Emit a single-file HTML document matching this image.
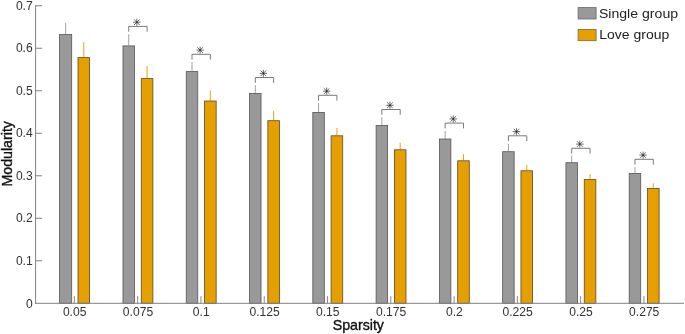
<!DOCTYPE html>
<html><head><meta charset="utf-8"><title>chart</title>
<style>
html,body{margin:0;padding:0;background:#fff;}
body{width:685px;height:334px;overflow:hidden;}
svg{display:block;will-change:transform;}
text{font-family:"Liberation Sans",sans-serif;}
</style></head><body>
<svg width="685" height="334" viewBox="0 0 685 334">

<line x1="65.65" y1="23.00" x2="65.65" y2="34.10" stroke="#a2a2a2" stroke-width="1"/>
<line x1="83.80" y1="42.20" x2="83.80" y2="57.20" stroke="#e7a310" stroke-width="1"/>
<rect x="59.60" y="34.50" width="12.10" height="268.80" fill="#999999" stroke="#555555" stroke-width="0.8"/>
<rect x="78.00" y="57.60" width="11.60" height="245.70" fill="#e69f00" stroke="#5a4a2a" stroke-width="0.8"/>
<line x1="74.35" y1="296.10" x2="74.35" y2="303.30" stroke="#8a8a8a" stroke-width="1"/>
<text x="74.65" y="316" font-size="12.1" fill="#333" text-anchor="middle">0.05</text>
<line x1="128.73" y1="34.30" x2="128.73" y2="45.50" stroke="#a2a2a2" stroke-width="1"/>
<line x1="147.08" y1="65.90" x2="147.08" y2="78.20" stroke="#e7a310" stroke-width="1"/>
<rect x="122.98" y="45.90" width="11.50" height="257.40" fill="#999999" stroke="#555555" stroke-width="0.8"/>
<rect x="141.28" y="78.60" width="11.60" height="224.70" fill="#e69f00" stroke="#5a4a2a" stroke-width="0.8"/>
<path d="M128.73 31.70 V26.40 H147.08 V31.70" fill="none" stroke="#7a7a7a" stroke-width="1"/>
<g stroke="#101010" stroke-width="0.62" stroke-linecap="butt"><path d="M133.15 22.20 H140.55 M136.85 18.70 V25.70 M134.05 19.40 L139.65 25.00 M134.05 25.00 L139.65 19.40"/></g>
<line x1="137.68" y1="296.10" x2="137.68" y2="303.30" stroke="#8a8a8a" stroke-width="1"/>
<text x="137.98" y="316" font-size="12.1" fill="#333" text-anchor="middle">0.075</text>
<line x1="192.01" y1="61.90" x2="192.01" y2="71.20" stroke="#a2a2a2" stroke-width="1"/>
<line x1="210.36" y1="90.40" x2="210.36" y2="100.60" stroke="#e7a310" stroke-width="1"/>
<rect x="186.26" y="71.60" width="11.50" height="231.70" fill="#999999" stroke="#555555" stroke-width="0.8"/>
<rect x="204.56" y="101.00" width="11.60" height="202.30" fill="#e69f00" stroke="#5a4a2a" stroke-width="0.8"/>
<path d="M192.01 59.60 V54.30 H210.36 V59.60" fill="none" stroke="#7a7a7a" stroke-width="1"/>
<g stroke="#101010" stroke-width="0.62" stroke-linecap="butt"><path d="M196.44 50.10 H203.83 M200.13 46.60 V53.60 M197.33 47.30 L202.94 52.90 M197.33 52.90 L202.94 47.30"/></g>
<line x1="200.96" y1="296.10" x2="200.96" y2="303.30" stroke="#8a8a8a" stroke-width="1"/>
<text x="201.26" y="316" font-size="12.1" fill="#333" text-anchor="middle">0.1</text>
<line x1="255.29" y1="85.10" x2="255.29" y2="93.10" stroke="#a2a2a2" stroke-width="1"/>
<line x1="273.64" y1="111.00" x2="273.64" y2="120.30" stroke="#e7a310" stroke-width="1"/>
<rect x="249.54" y="93.50" width="11.50" height="209.80" fill="#999999" stroke="#555555" stroke-width="0.8"/>
<rect x="267.84" y="120.70" width="11.60" height="182.60" fill="#e69f00" stroke="#5a4a2a" stroke-width="0.8"/>
<path d="M255.29 82.80 V77.50 H273.64 V82.80" fill="none" stroke="#7a7a7a" stroke-width="1"/>
<g stroke="#101010" stroke-width="0.62" stroke-linecap="butt"><path d="M259.71 73.30 H267.11 M263.41 69.80 V76.80 M260.61 70.50 L266.21 76.10 M260.61 76.10 L266.21 70.50"/></g>
<line x1="264.24" y1="296.10" x2="264.24" y2="303.30" stroke="#8a8a8a" stroke-width="1"/>
<text x="264.54" y="316" font-size="12.1" fill="#333" text-anchor="middle">0.125</text>
<line x1="318.57" y1="103.20" x2="318.57" y2="112.00" stroke="#a2a2a2" stroke-width="1"/>
<line x1="336.92" y1="127.90" x2="336.92" y2="135.40" stroke="#e7a310" stroke-width="1"/>
<rect x="312.82" y="112.40" width="11.50" height="190.90" fill="#999999" stroke="#555555" stroke-width="0.8"/>
<rect x="331.12" y="135.80" width="11.60" height="167.50" fill="#e69f00" stroke="#5a4a2a" stroke-width="0.8"/>
<path d="M318.57 100.60 V95.30 H336.92 V100.60" fill="none" stroke="#7a7a7a" stroke-width="1"/>
<g stroke="#101010" stroke-width="0.62" stroke-linecap="butt"><path d="M323.00 91.10 H330.39 M326.69 87.60 V94.60 M323.89 88.30 L329.50 93.90 M323.89 93.90 L329.50 88.30"/></g>
<line x1="327.52" y1="296.10" x2="327.52" y2="303.30" stroke="#8a8a8a" stroke-width="1"/>
<text x="327.82" y="316" font-size="12.1" fill="#333" text-anchor="middle">0.15</text>
<line x1="381.85" y1="117.20" x2="381.85" y2="125.00" stroke="#a2a2a2" stroke-width="1"/>
<line x1="400.20" y1="142.60" x2="400.20" y2="149.40" stroke="#e7a310" stroke-width="1"/>
<rect x="376.10" y="125.40" width="11.50" height="177.90" fill="#999999" stroke="#555555" stroke-width="0.8"/>
<rect x="394.40" y="149.80" width="11.60" height="153.50" fill="#e69f00" stroke="#5a4a2a" stroke-width="0.8"/>
<path d="M381.85 114.80 V109.50 H400.20 V114.80" fill="none" stroke="#7a7a7a" stroke-width="1"/>
<g stroke="#101010" stroke-width="0.62" stroke-linecap="butt"><path d="M386.27 105.30 H393.67 M389.97 101.80 V108.80 M387.17 102.50 L392.77 108.10 M387.17 108.10 L392.77 102.50"/></g>
<line x1="390.80" y1="296.10" x2="390.80" y2="303.30" stroke="#8a8a8a" stroke-width="1"/>
<text x="391.10" y="316" font-size="12.1" fill="#333" text-anchor="middle">0.175</text>
<line x1="445.13" y1="131.00" x2="445.13" y2="138.60" stroke="#a2a2a2" stroke-width="1"/>
<line x1="463.48" y1="154.20" x2="463.48" y2="160.40" stroke="#e7a310" stroke-width="1"/>
<rect x="439.38" y="139.00" width="11.50" height="164.30" fill="#999999" stroke="#555555" stroke-width="0.8"/>
<rect x="457.68" y="160.80" width="11.60" height="142.50" fill="#e69f00" stroke="#5a4a2a" stroke-width="0.8"/>
<path d="M445.13 128.40 V123.10 H463.48 V128.40" fill="none" stroke="#7a7a7a" stroke-width="1"/>
<g stroke="#101010" stroke-width="0.62" stroke-linecap="butt"><path d="M449.55 118.90 H456.95 M453.25 115.40 V122.40 M450.45 116.10 L456.05 121.70 M450.45 121.70 L456.05 116.10"/></g>
<line x1="454.08" y1="296.10" x2="454.08" y2="303.30" stroke="#8a8a8a" stroke-width="1"/>
<text x="454.38" y="316" font-size="12.1" fill="#333" text-anchor="middle">0.2</text>
<line x1="508.41" y1="144.00" x2="508.41" y2="151.30" stroke="#a2a2a2" stroke-width="1"/>
<line x1="526.76" y1="164.80" x2="526.76" y2="170.40" stroke="#e7a310" stroke-width="1"/>
<rect x="502.66" y="151.70" width="11.50" height="151.60" fill="#999999" stroke="#555555" stroke-width="0.8"/>
<rect x="520.96" y="170.80" width="11.60" height="132.50" fill="#e69f00" stroke="#5a4a2a" stroke-width="0.8"/>
<path d="M508.41 141.10 V135.80 H526.76 V141.10" fill="none" stroke="#7a7a7a" stroke-width="1"/>
<g stroke="#101010" stroke-width="0.62" stroke-linecap="butt"><path d="M512.84 131.60 H520.24 M516.54 128.10 V135.10 M513.74 128.80 L519.34 134.40 M513.74 134.40 L519.34 128.80"/></g>
<line x1="517.36" y1="296.10" x2="517.36" y2="303.30" stroke="#8a8a8a" stroke-width="1"/>
<text x="517.66" y="316" font-size="12.1" fill="#333" text-anchor="middle">0.225</text>
<line x1="571.69" y1="155.50" x2="571.69" y2="162.30" stroke="#a2a2a2" stroke-width="1"/>
<line x1="590.04" y1="174.20" x2="590.04" y2="179.20" stroke="#e7a310" stroke-width="1"/>
<rect x="565.94" y="162.70" width="11.50" height="140.60" fill="#999999" stroke="#555555" stroke-width="0.8"/>
<rect x="584.24" y="179.60" width="11.60" height="123.70" fill="#e69f00" stroke="#5a4a2a" stroke-width="0.8"/>
<path d="M571.69 153.60 V148.30 H590.04 V153.60" fill="none" stroke="#7a7a7a" stroke-width="1"/>
<g stroke="#101010" stroke-width="0.62" stroke-linecap="butt"><path d="M576.12 144.10 H583.52 M579.82 140.60 V147.60 M577.02 141.30 L582.62 146.90 M577.02 146.90 L582.62 141.30"/></g>
<line x1="580.64" y1="296.10" x2="580.64" y2="303.30" stroke="#8a8a8a" stroke-width="1"/>
<text x="580.94" y="316" font-size="12.1" fill="#333" text-anchor="middle">0.25</text>
<line x1="634.97" y1="167.00" x2="634.97" y2="173.00" stroke="#a2a2a2" stroke-width="1"/>
<line x1="653.32" y1="183.30" x2="653.32" y2="188.10" stroke="#e7a310" stroke-width="1"/>
<rect x="629.22" y="173.40" width="11.50" height="129.90" fill="#999999" stroke="#555555" stroke-width="0.8"/>
<rect x="647.52" y="188.50" width="11.60" height="114.80" fill="#e69f00" stroke="#5a4a2a" stroke-width="0.8"/>
<path d="M634.97 164.60 V159.30 H653.32 V164.60" fill="none" stroke="#7a7a7a" stroke-width="1"/>
<g stroke="#101010" stroke-width="0.62" stroke-linecap="butt"><path d="M639.39 155.10 H646.80 M643.10 151.60 V158.60 M640.30 152.30 L645.89 157.90 M640.30 157.90 L645.89 152.30"/></g>
<line x1="643.92" y1="296.10" x2="643.92" y2="303.30" stroke="#8a8a8a" stroke-width="1"/>
<text x="644.22" y="316" font-size="12.1" fill="#333" text-anchor="middle">0.275</text>
<line x1="35.6" y1="5.2" x2="35.6" y2="303.8" stroke="#808080" stroke-width="1"/>
<line x1="35.1" y1="303.3" x2="684" y2="303.3" stroke="#808080" stroke-width="1"/>
<text x="32.7" y="307.50" font-size="12.1" fill="#333" text-anchor="end">0</text>
<line x1="35.6" y1="260.79" x2="42.1" y2="260.79" stroke="#808080" stroke-width="1"/>
<text x="32.7" y="264.99" font-size="12.1" fill="#333" text-anchor="end">0.1</text>
<line x1="35.6" y1="218.28" x2="42.1" y2="218.28" stroke="#808080" stroke-width="1"/>
<text x="32.7" y="222.48" font-size="12.1" fill="#333" text-anchor="end">0.2</text>
<line x1="35.6" y1="175.77" x2="42.1" y2="175.77" stroke="#808080" stroke-width="1"/>
<text x="32.7" y="179.97" font-size="12.1" fill="#333" text-anchor="end">0.3</text>
<line x1="35.6" y1="133.26" x2="42.1" y2="133.26" stroke="#808080" stroke-width="1"/>
<text x="32.7" y="137.46" font-size="12.1" fill="#333" text-anchor="end">0.4</text>
<line x1="35.6" y1="90.75" x2="42.1" y2="90.75" stroke="#808080" stroke-width="1"/>
<text x="32.7" y="94.95" font-size="12.1" fill="#333" text-anchor="end">0.5</text>
<line x1="35.6" y1="48.24" x2="42.1" y2="48.24" stroke="#808080" stroke-width="1"/>
<text x="32.7" y="52.44" font-size="12.1" fill="#333" text-anchor="end">0.6</text>
<line x1="35.6" y1="5.73" x2="42.1" y2="5.73" stroke="#808080" stroke-width="1"/>
<text x="32.7" y="9.93" font-size="12.1" fill="#333" text-anchor="end">0.7</text>
<text x="358.3" y="330.1" font-size="14.2" fill="#111" stroke="#111" stroke-width="0.35" text-anchor="middle">Sparsity</text>
<text transform="translate(11.7,153.8) rotate(-90)" font-size="14.2" fill="#111" stroke="#111" stroke-width="0.35" text-anchor="middle">Modularity</text>
<rect x="578.1" y="7.6" width="18" height="11.4" fill="#999999" stroke="#666" stroke-width="0.8"/>
<rect x="578.1" y="29.5" width="18" height="11.2" fill="#e69f00" stroke="#7a6a3a" stroke-width="0.8"/>
<text x="598.9" y="17.9" font-size="13.6" fill="#222" textLength="79.2" lengthAdjust="spacingAndGlyphs">Single group</text>
<text x="599.3" y="39.2" font-size="13.6" fill="#222" textLength="70" lengthAdjust="spacingAndGlyphs">Love group</text>
</svg></body></html>
